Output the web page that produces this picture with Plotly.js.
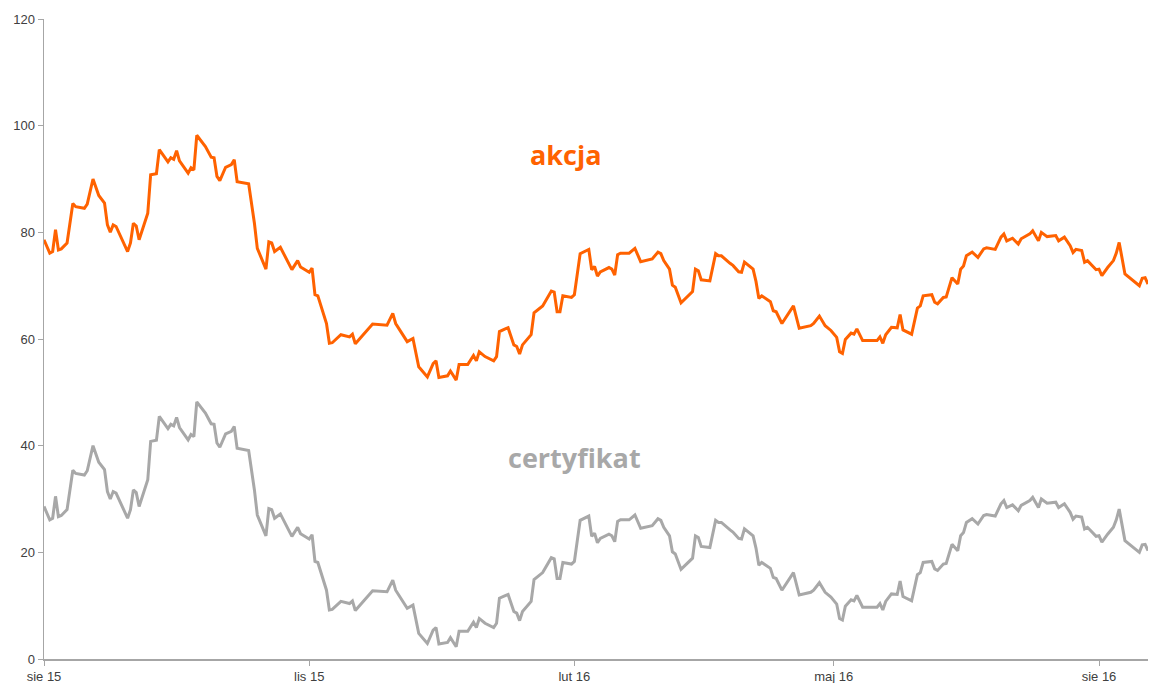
<!DOCTYPE html>
<html>
<head>
<meta charset="utf-8">
<script src="https://cdn.plot.ly/plotly-3.0.1.min.js"></script>
<style>html,body{margin:0;padding:0;background:#fff;}#chart{width:1149px;height:683px;}</style>
</head>
<body>
<div id="chart"></div>
<script>
const dates = [
"2015-08-01","2015-08-03","2015-08-04","2015-08-05","2015-08-06","2015-08-07","2015-08-09","2015-08-11","2015-08-12","2015-08-15",
"2015-08-16","2015-08-18","2015-08-20","2015-08-22","2015-08-23","2015-08-24","2015-08-25","2015-08-26","2015-08-30","2015-08-31",
"2015-09-01","2015-09-02","2015-09-03","2015-09-06","2015-09-07","2015-09-09","2015-09-10","2015-09-13","2015-09-14","2015-09-15",
"2015-09-16","2015-09-17","2015-09-20","2015-09-21","2015-09-22","2015-09-23","2015-09-26","2015-09-28","2015-09-29","2015-09-30",
"2015-10-01","2015-10-03","2015-10-05","2015-10-06","2015-10-07","2015-10-11","2015-10-13","2015-10-14","2015-10-17","2015-10-18",
"2015-10-19","2015-10-20","2015-10-22","2015-10-26","2015-10-28","2015-10-29","2015-11-01","2015-11-02","2015-11-03","2015-11-04",
"2015-11-07","2015-11-08","2015-11-09","2015-11-12","2015-11-15","2015-11-16","2015-11-17","2015-11-19","2015-11-23","2015-11-28",
"2015-11-30","2015-12-01","2015-12-05","2015-12-07","2015-12-09","2015-12-12","2015-12-14","2015-12-15","2015-12-16","2015-12-19",
"2015-12-20","2015-12-22","2015-12-23","2015-12-26","2015-12-28","2015-12-29","2015-12-30","2016-01-01","2016-01-04","2016-01-05",
"2016-01-06","2016-01-08","2016-01-09","2016-01-11","2016-01-12","2016-01-13","2016-01-14","2016-01-17","2016-01-18","2016-01-21",
"2016-01-24","2016-01-25","2016-01-26","2016-01-27","2016-01-28","2016-01-31","2016-02-01","2016-02-03","2016-02-06","2016-02-07",
"2016-02-08","2016-02-09","2016-02-10","2016-02-13","2016-02-14","2016-02-15","2016-02-16","2016-02-17","2016-02-20","2016-02-22",
"2016-02-24","2016-02-28","2016-03-01","2016-03-02","2016-03-03","2016-03-05","2016-03-06","2016-03-07","2016-03-09","2016-03-13",
"2016-03-14","2016-03-15","2016-03-16","2016-03-19","2016-03-21","2016-03-22","2016-03-23","2016-03-26","2016-03-27","2016-03-29",
"2016-03-30","2016-03-31","2016-04-02","2016-04-03","2016-04-04","2016-04-05","2016-04-06","2016-04-09","2016-04-10","2016-04-11",
"2016-04-13","2016-04-17","2016-04-19","2016-04-23","2016-04-24","2016-04-26","2016-04-28","2016-04-30","2016-05-02","2016-05-03",
"2016-05-04","2016-05-05","2016-05-07","2016-05-08","2016-05-09","2016-05-11","2016-05-16","2016-05-17","2016-05-18","2016-05-19",
"2016-05-21","2016-05-23","2016-05-24","2016-05-25","2016-05-28","2016-05-30","2016-05-31","2016-06-01","2016-06-04","2016-06-05",
"2016-06-06","2016-06-08","2016-06-09","2016-06-11","2016-06-13","2016-06-14","2016-06-15","2016-06-16","2016-06-18","2016-06-20",
"2016-06-22","2016-06-23","2016-06-26","2016-06-28","2016-06-29","2016-06-30","2016-07-02","2016-07-04","2016-07-05","2016-07-08",
"2016-07-09","2016-07-11","2016-07-12","2016-07-14","2016-07-17","2016-07-18","2016-07-20","2016-07-22","2016-07-23","2016-07-24",
"2016-07-26","2016-07-27","2016-07-28","2016-07-31","2016-08-01","2016-08-02","2016-08-04","2016-08-06","2016-08-07","2016-08-08",
"2016-08-10","2016-08-13","2016-08-15","2016-08-16","2016-08-17","2016-08-18"
];

const akcja = [
78.6,76.1,76.4,80.5,76.7,76.9,78.0,85.4,84.8,84.5,
85.3,90.0,86.9,85.5,81.4,80.0,81.4,81.1,76.4,78.0,
81.7,81.2,78.6,83.6,90.8,91.0,95.5,93.2,94.0,93.7,
95.3,93.4,91.1,92.1,91.7,98.2,96.1,94.1,94.0,90.5,
89.7,92.2,92.7,93.6,89.5,89.1,81.7,77.0,73.1,78.2,
78.0,76.4,77.2,73.0,74.7,73.5,72.5,73.3,68.3,68.1,
62.9,59.2,59.3,60.8,60.4,60.9,59.1,60.3,62.8,62.6,
64.8,62.9,59.5,60.1,54.8,52.9,55.4,55.9,52.8,53.1,
54.0,52.3,55.2,55.2,56.9,55.9,57.6,56.7,55.9,56.7,
61.4,61.9,62.1,58.9,58.6,57.2,58.9,60.8,64.9,66.2,
69.0,68.8,65.1,65.1,68.1,67.8,68.3,76.0,76.8,73.0,
73.6,71.8,72.6,73.4,73.1,72.0,75.8,76.1,76.1,77.0,
74.5,75.0,76.3,76.0,74.7,73.1,70.1,69.7,66.8,68.9,
73.1,72.8,71.1,70.9,76.0,75.6,75.6,74.2,73.8,72.6,
72.5,74.4,73.6,73.1,70.8,67.6,68.1,67.0,65.3,65.1,
62.9,66.2,62.0,62.5,62.9,64.3,62.5,61.6,60.3,57.6,
57.3,59.9,61.1,60.9,61.9,59.7,59.7,60.4,59.2,60.8,
62.2,62.1,64.6,61.7,60.9,65.8,66.2,68.1,68.3,66.9,
66.6,67.8,67.9,71.5,70.3,73.1,73.7,75.6,76.3,75.3,
76.9,77.1,76.8,79.1,79.7,78.4,78.9,77.8,78.8,79.7,
80.3,78.4,80.0,79.2,79.4,78.4,79.1,77.5,76.2,76.8,
76.6,74.4,74.7,73.0,73.1,71.9,73.4,74.7,76.1,78.1,
72.2,70.9,70.0,71.4,71.5,70.3
];

const certyfikat = [
28.6,26.1,26.4,30.5,26.7,26.9,28.0,35.4,34.8,34.5,
35.3,40.0,36.9,35.5,31.4,30.0,31.4,31.1,26.4,28.0,
31.7,31.2,28.6,33.6,40.8,41.0,45.5,43.2,44.0,43.7,
45.3,43.4,41.1,42.1,41.7,48.2,46.1,44.1,44.0,40.5,
39.7,42.2,42.7,43.6,39.5,39.1,31.7,27.0,23.1,28.2,
28.0,26.4,27.2,23.0,24.7,23.5,22.5,23.3,18.3,18.1,
12.9,9.2,9.3,10.8,10.4,10.9,9.1,10.3,12.8,12.6,
14.8,12.9,9.5,10.1,4.8,2.9,5.4,5.9,2.8,3.1,
4.0,2.3,5.2,5.2,6.9,5.9,7.6,6.7,5.9,6.7,
11.4,11.9,12.1,8.9,8.6,7.2,8.9,10.8,14.9,16.2,
19.0,18.8,15.1,15.1,18.1,17.8,18.3,26.0,26.8,23.0,
23.6,21.8,22.6,23.4,23.1,22.0,25.8,26.1,26.1,27.0,
24.5,25.0,26.3,26.0,24.7,23.1,20.1,19.7,16.8,18.9,
23.1,22.8,21.1,20.9,26.0,25.6,25.6,24.2,23.8,22.6,
22.5,24.4,23.6,23.1,20.8,17.6,18.1,17.0,15.3,15.1,
12.9,16.2,12.0,12.5,12.9,14.3,12.5,11.6,10.3,7.6,
7.3,9.9,11.1,10.9,11.9,9.7,9.7,10.4,9.2,10.8,
12.2,12.1,14.6,11.7,10.9,15.8,16.2,18.1,18.3,16.9,
16.6,17.8,17.9,21.5,20.3,23.1,23.7,25.6,26.3,25.3,
26.9,27.1,26.8,29.1,29.7,28.4,28.9,27.8,28.8,29.7,
30.3,28.4,30.0,29.2,29.4,28.4,29.1,27.5,26.2,26.8,
26.6,24.4,24.7,23.0,23.1,21.9,23.4,24.7,26.1,28.1,
22.2,20.9,20.0,21.4,21.5,20.3
];

const xTickDates = ["2015-08-01","2015-11-01","2016-02-01","2016-05-01","2016-08-01"];
const xTickLabels = ["sie 15","lis 15","lut 16","maj 16","sie 16"];
const yTicks = [0,20,40,60,80,100,120];
const seriesNames = ["akcja","certyfikat"];

const traces = [
  {x: dates, y: akcja, type: "scatter", mode: "lines", name: seriesNames[0],
   line: {color: "#FF6200", width: 3}},
  {x: dates, y: certyfikat, type: "scatter", mode: "lines", name: seriesNames[1],
   line: {color: "#A8A8A8", width: 3}}
];

const axisColor = "#A6A6A6";
const tickFont = {family: "Liberation Sans, Arial, sans-serif", size: 13, color: "#404040"};

const layout = {
  width: 1149, height: 683,
  margin: {l: 44, r: 1, t: 19, b: 24},
  paper_bgcolor: "#ffffff", plot_bgcolor: "#ffffff",
  showlegend: false,
  xaxis: {
    type: "date",
    range: ["2015-08-01", "2016-08-18"],
    tickmode: "array", tickvals: xTickDates, ticktext: xTickLabels,
    ticks: "outside", ticklen: 5, tickcolor: axisColor, tickwidth: 1,
    showline: true, linecolor: axisColor, linewidth: 1.5,
    showgrid: false, zeroline: false,
    tickfont: tickFont, tickangle: 0
  },
  yaxis: {
    range: [0, 120],
    tickmode: "array", tickvals: yTicks,
    ticks: "outside", ticklen: 5, tickcolor: axisColor, tickwidth: 1,
    showline: true, linecolor: axisColor, linewidth: 1.5,
    showgrid: false, zeroline: false,
    tickfont: tickFont
  },
  annotations: [
    {x: "2016-01-29", y: 94.6, xref: "x", yref: "y", text: "<b>akcja</b>", showarrow: false,
     font: {family: "Open Sans, sans-serif", size: 27, color: "#FF6200"}},
    {x: "2016-02-01", y: 37.7, xref: "x", yref: "y", text: "<b>certyfikat</b>", showarrow: false,
     font: {family: "Open Sans, sans-serif", size: 27, color: "#A8A8A8"}}
  ]
};

Plotly.newPlot("chart", traces, layout, {displayModeBar: false, staticPlot: true});
</script>
</body>
</html>
